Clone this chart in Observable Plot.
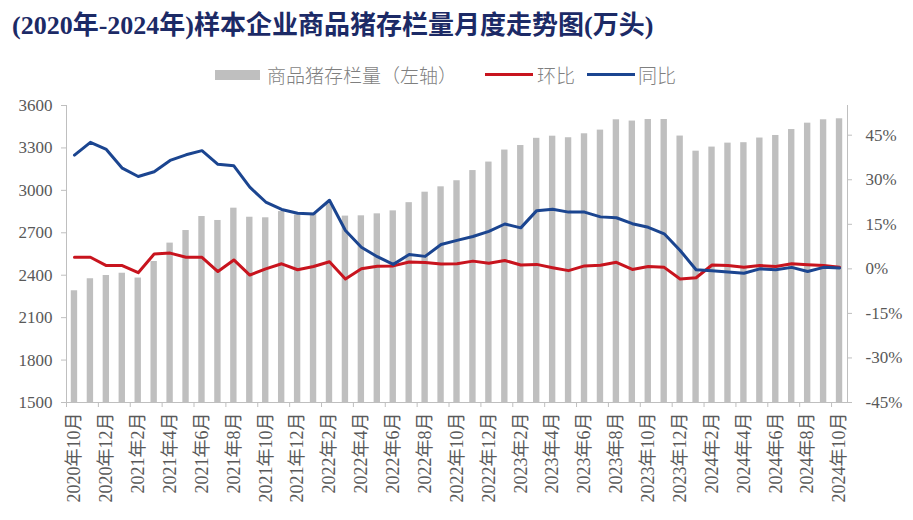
<!DOCTYPE html>
<html>
<head>
<meta charset="utf-8">
<script src="https://cdn.jsdelivr.net/npm/d3@7"></script>
<script src="https://cdn.jsdelivr.net/npm/@observablehq/plot@0.6"></script>
<style>
  html, body { margin: 0; padding: 0; background: #fff; }
  #wrap { width: 913px; position: relative; }
  #head { position: relative; height: 95px; }
  #title { position: absolute; left: 12px; top: 4px; font-family: "Liberation Serif", "Noto Sans CJK SC", serif; font-weight: bold; font-size: 26px; color: #1c2a66; white-space: nowrap; }
  .lg { position: absolute; font-family: "Noto Sans CJK SC", sans-serif; font-weight: 300; font-size: 19px; color: #7f7f7f; top: 63px; line-height: 24px; white-space: nowrap; }
  .sw { position: absolute; }
</style>
</head>
<body>
<div id="wrap">
  <div id="head">
    <div id="title">(2020年-2024年)样本企业商品猪存栏量月度走势图(万头)</div>
  </div>
  <div id="chart"></div>
</div>
<script>
// ---- data ----
const years = [2020, 2021, 2022, 2023, 2024];
const months = [];
for (const y of years) for (let m = 1; m <= 12; m++) {
  if ((y === 2020 && m < 10) || (y === 2024 && m > 10)) continue;
  months.push(`${y}年${m}月`);
}
// 商品猪存栏量 (万头, left axis)
const stock = [2290, 2375, 2398, 2414, 2380, 2497, 2627, 2716, 2815, 2787, 2874, 2810,
               2806, 2850, 2826, 2839, 2905, 2818, 2820, 2834, 2855, 2913, 2987, 3025,
               3068, 3140, 3200, 3285, 3317, 3368, 3383, 3372, 3400, 3426, 3499, 3490,
               3501, 3501, 3384, 3277, 3306, 3334, 3337, 3370, 3388, 3430, 3475, 3499, 3506];
// 环比 (%)
const mom = [3.9, 3.9, 1.1, 1.1, -1.3, 5.0, 5.3, 3.9, 3.9, -0.9, 3.0, -2.1,
             0.0, 1.7, -0.3, 0.8, 2.4, -3.4, 0.0, 0.9, 1.0, 2.3, 2.1, 1.6,
             1.7, 2.6, 1.9, 2.8, 1.3, 1.5, 0.4, -0.6, 1.0, 1.2, 2.2, -0.2,
             0.8, 0.5, -3.4, -3.0, 1.3, 1.1, 0.5, 1.1, 0.8, 1.7, 1.4, 1.1, 0.5];
// 同比 (%)
const yoy = [38.3, 42.6, 40.2, 33.9, 31.1, 32.7, 36.5, 38.4, 39.8, 35.2, 34.7, 27.5,
             22.5, 20.0, 18.7, 18.5, 23.1, 12.9, 7.3, 4.1, 1.5, 4.8, 4.2, 8.2,
             9.6, 10.9, 12.6, 15.1, 13.8, 19.6, 20.1, 19.1, 19.1, 17.5, 17.2, 15.2,
             14.0, 11.8, 6.2, -0.3, -0.6, -1.1, -1.5, 0.0, -0.3, 0.5, -0.9, 0.5, 0.3];
const leftTicks = [1500, 1800, 2100, 2400, 2700, 3000, 3300, 3600];
const rightTicks = [-45, -30, -15, 0, 15, 30, 45];
const leftDomain = [1500, 3600];
const rightDomain = [-45, 55];

// ---- build ----
const red = "#c8141e", blue = "#1b4590", gray = "#bfbfbf";
const toLeft = p => leftDomain[0] + (p - rightDomain[0]) / (rightDomain[1] - rightDomain[0]) * (leftDomain[1] - leftDomain[0]);
const data = months.map((m, i) => ({month: m, stock: stock[i], mom: toLeft(mom[i]), yoy: toLeft(yoy[i])}));
const labelMonths = months.filter((d, i) => i % 2 === 0);
const rightLabel = new Map(rightTicks.map(p => [toLeft(p), `${p}%`]));

const W = 913, H = 425, mL = 66, mR = 66;
const step = (W - mL - mR) / months.length;

const chart = Plot.plot({
  width: W, height: H,
  marginLeft: mL, marginRight: mR, marginTop: 10, marginBottom: 118,
  style: {fontFamily: "'Liberation Serif','Noto Sans CJK SC',serif", fontSize: "17px", color: "#595959", background: "#fff", overflow: "visible"},
  x: {domain: months, paddingInner: 0.6, paddingOuter: 0.3, align: 0.5},
  y: {domain: leftDomain},
  marks: [
    Plot.barY(data, {x: "month", y1: leftDomain[0], y2: "stock", fill: gray}),
    Plot.ruleY([leftDomain[0]], {stroke: gray, strokeWidth: 1.2}),
    Plot.frame({anchor: "left", stroke: gray}),
    Plot.frame({anchor: "right", stroke: gray}),
    Plot.lineY(data, {x: "month", y: "mom", stroke: red, strokeWidth: 3}),
    Plot.lineY(data, {x: "month", y: "yoy", stroke: blue, strokeWidth: 3}),
    Plot.axisY({ticks: leftTicks, anchor: "left", tickSize: 5, tickPadding: 9, stroke: gray, fill: "#595959", label: null,
                tickFormat: d => String(d)}),
    Plot.axisY({ticks: rightTicks.map(toLeft), anchor: "right", tickSize: 4, tickPadding: 14, stroke: gray, fill: "#595959", label: null,
                tickFormat: d => rightLabel.get(d)}),
    Plot.axisX({ticks: labelMonths, tickSize: 5, dx: -step / 2, stroke: gray, tickFormat: () => "", label: null}),
    Plot.axisX({ticks: labelMonths, tickSize: 0, tickPadding: 10, tickRotate: -90, fill: "#595959", fontSize: 18, label: null})
  ]
});
document.getElementById("chart").appendChild(chart);

// legend
const head = document.getElementById("head");
function add(html) { head.insertAdjacentHTML("beforeend", html); }
add(`<div class="sw" style="left:215px;top:70px;width:45px;height:10px;background:${gray}"></div>`);
add(`<div class="lg" style="left:267px">商品猪存栏量（左轴）</div>`);
add(`<div class="sw" style="left:485px;top:73px;width:48px;height:3px;background:${red}"></div>`);
add(`<div class="lg" style="left:537px">环比</div>`);
add(`<div class="sw" style="left:587px;top:73px;width:48px;height:3px;background:${blue}"></div>`);
add(`<div class="lg" style="left:638px">同比</div>`);
</script>
</body>
</html>
